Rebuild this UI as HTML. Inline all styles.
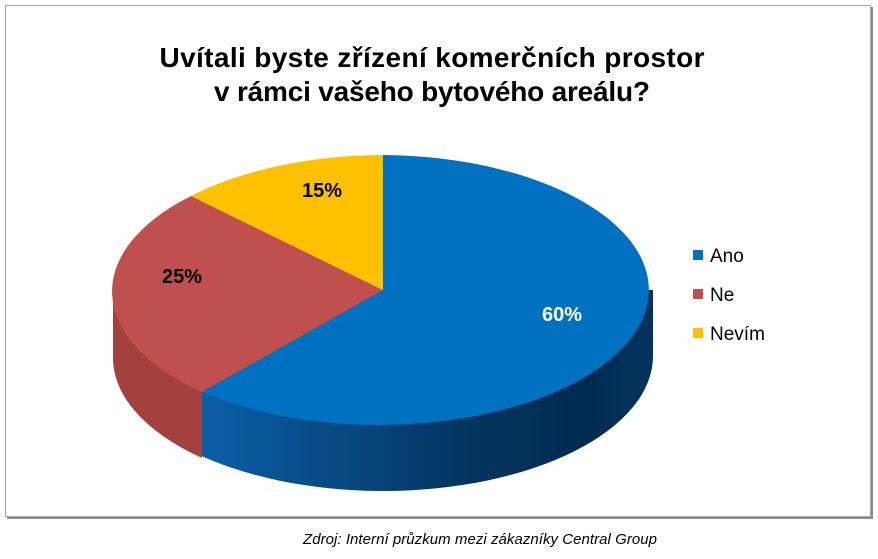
<!DOCTYPE html>
<html><head><meta charset="utf-8"><style>
body{margin:0;width:878px;height:554px;background:#fff;overflow:hidden;font-family:"Liberation Sans",Arial,sans-serif}
</style></head><body>
<svg width="878" height="554" viewBox="0 0 878 554" xmlns="http://www.w3.org/2000/svg">
<defs>
<linearGradient id="bs" x1="202" y1="0" x2="653" y2="0" gradientUnits="userSpaceOnUse">
<stop offset="0" stop-color="#0a5ea6"/><stop offset="0.6" stop-color="#03345f"/><stop offset="0.85" stop-color="#002b50"/><stop offset="1" stop-color="#03345f"/>
</linearGradient>
</defs>
<rect x="7" y="7" width="866" height="512" fill="#8c8c8c"/>
<rect x="5.5" y="5.5" width="865" height="511" fill="#fff" stroke="#a6a6a6" stroke-width="1"/>
<path d="M113,290 L653,290 L653,356 A270,135 0 0 1 113,356 Z" fill="url(#bs)"/>
<path d="M113,290 L202,290 L202,458 A270,135 0 0 1 113,356 Z" fill="#a2413e"/>
<path d="M383,290 L383,155 A270,135 0 1 1 202,392 Z" fill="#0070c0"/>
<path d="M383,290 L202,392 A270,135 0 0 1 191,196 Z" fill="#c0504d"/>
<path d="M383,290 L191,196 A270,135 0 0 1 383,155 Z" fill="#ffc000"/>
<text x="432" y="67" text-anchor="middle" font-size="28" font-weight="bold" fill="#000" textLength="545">Uvítali byste zřízení komerčních prostor</text>
<text x="432" y="101" text-anchor="middle" font-size="28" font-weight="bold" fill="#000" textLength="436">v rámci vašeho bytového areálu?</text>
<text x="562" y="321" text-anchor="middle" font-size="20" font-weight="bold" fill="#fff">60%</text>
<text x="182" y="283" text-anchor="middle" font-size="20" font-weight="bold" fill="#000">25%</text>
<text x="322" y="197" text-anchor="middle" font-size="20" font-weight="bold" fill="#000">15%</text>
<rect x="693" y="250" width="10" height="10" fill="#0070c0"/>
<text x="710" y="262" font-size="19" fill="#000">Ano</text>
<rect x="693" y="289" width="10" height="10" fill="#c0504d"/>
<text x="710" y="301" font-size="19" fill="#000">Ne</text>
<rect x="693" y="328" width="10" height="10" fill="#ffc000"/>
<text x="710" y="340" font-size="19" fill="#000">Nevím</text>
<text x="480" y="544" text-anchor="middle" font-size="15" font-style="italic" fill="#000" textLength="354">Zdroj: Interní průzkum mezi zákazníky Central Group</text>
</svg>
</body></html>
